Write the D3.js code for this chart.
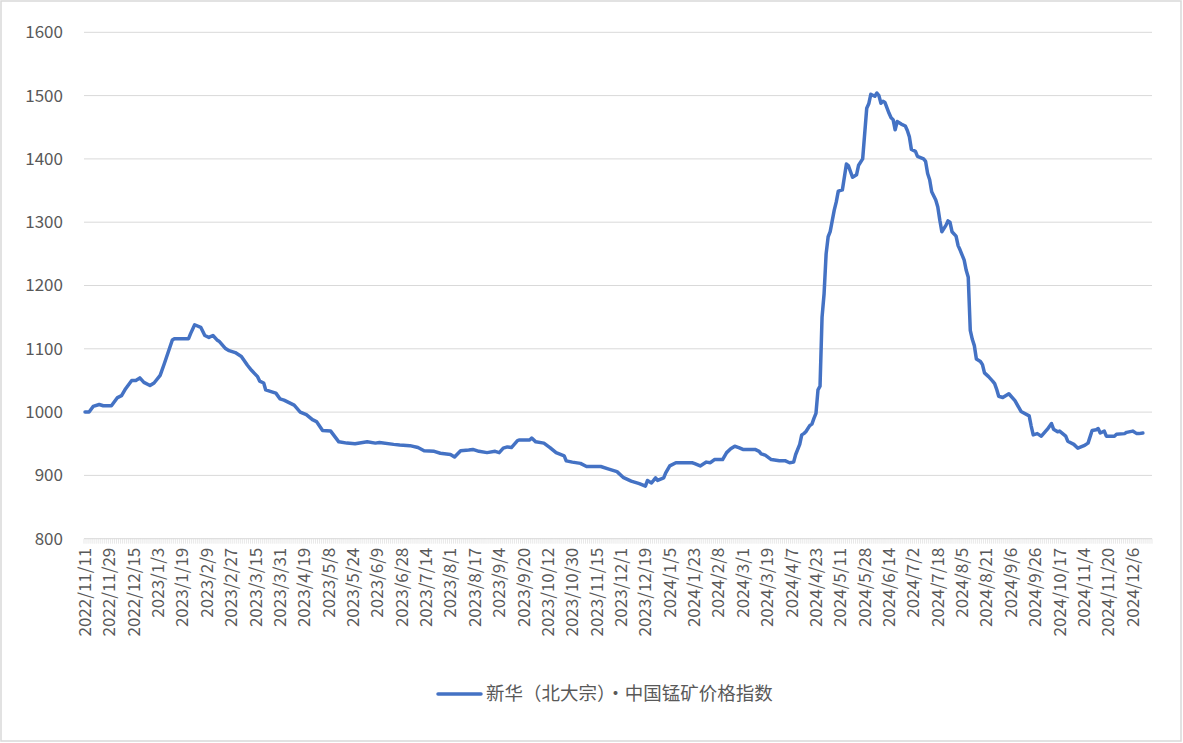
<!DOCTYPE html>
<html>
<head>
<meta charset="utf-8">
<script src="https://cdn.jsdelivr.net/npm/d3@7"></script>
<style>
  body { margin: 0; background: #fff; }
  text { font-family: "Noto Sans CJK SC", "Noto Sans", sans-serif; fill: #595959; }
</style>
</head>
<body>
<script>
// x axis: trading-day categories, a label on every 12th one
let categoryCount = 526;
let tickLabels = ["2022/11/11","2022/11/29","2022/12/15","2023/1/3","2023/1/19","2023/2/9","2023/2/27",
  "2023/3/15","2023/3/31","2023/4/19","2023/5/8","2023/5/24","2023/6/9","2023/6/28","2023/7/14",
  "2023/8/1","2023/8/17","2023/9/4","2023/9/20","2023/10/12","2023/10/30","2023/11/15","2023/12/1",
  "2023/12/19","2024/1/5","2024/1/23","2024/2/8","2024/3/1","2024/3/19","2024/4/7","2024/4/23",
  "2024/5/11","2024/5/28","2024/6/14","2024/7/2","2024/7/18","2024/8/5","2024/8/21","2024/9/6",
  "2024/9/26","2024/10/17","2024/11/4","2024/11/20","2024/12/6"];
let yTicks = [800, 900, 1000, 1100, 1200, 1300, 1400, 1500, 1600];
let seriesName = "新华（北大宗）·中国锰矿价格指数";

// index value: [trading day number, value]
let indexValues = [
  [0,1000],[2,1000],[4,1009],[7,1012],[9,1010],[13,1010],[16,1023],[18,1026],[20,1037],[23,1050],
  [25,1050],[27,1054],[29,1047],[32,1042],[34,1046],[37,1058],[39,1076],[41,1095],[43,1114],[44,1116],
  [51,1116],[52,1124],[54,1138],[57,1134],[59,1121],[61,1118],[63,1121],[65,1114],[66,1112],[69,1101],
  [71,1097],[74,1094],[77,1088],[80,1074],[82,1066],[85,1056],[86,1049],[88,1046],[89,1035],[92,1032],
  [94,1030],[96,1021],[98,1019],[103,1011],[106,1000],[109,996],[112,988],[114,985],[117,971],[121,970],
  [125,953],[129,951],[133,950],[139,953],[143,951],[145,952],[152,949],[155,948],[160,947],[164,944],
  [167,939],[172,938],[175,935],[180,933],[182,929],[185,939],[189,940],[191,941],[194,938],[198,936],
  [202,938],[204,936],[206,943],[208,945],[210,944],[213,955],[214,956],[219,956],[220,959],[222,953],
  [226,951],[229,944],[232,936],[236,931],[237,923],[240,921],[244,919],[247,914],[254,914],[258,910],
  [262,906],[265,897],[269,891],[273,887],[276,883],[277,892],[279,888],[281,896],[282,892],[285,896],
  [286,904],[288,915],[291,920],[299,920],[300,919],[303,915],[306,921],[308,920],[310,925],[314,925],
  [316,936],[318,942],[320,946],[322,944],[324,941],[330,941],[332,938],[333,934],[335,932],[338,925],
  [342,923],[345,923],[347,920],[349,921],[350,933],[352,949],[353,964],[354,966],[355,969],[357,979],
  [358,981],[359,990],[360,998],[361,1035],[362,1041],[363,1150],[364,1187],[365,1250],[366,1277],[367,1285],
  [369,1319],[370,1332],[371,1349],[373,1351],[375,1392],[376,1389],[378,1371],[380,1375],[381,1390],[383,1400],
  [385,1480],[386,1487],[387,1502],[389,1499],[390,1504],[391,1500],[392,1488],[393,1491],[394,1489],[396,1472],
  [397,1465],[398,1462],[399,1446],[400,1459],[402,1455],[404,1452],[405,1445],[406,1435],[407,1415],[409,1412],
  [410,1404],[413,1400],[414,1396],[415,1377],[416,1367],[417,1348],[419,1335],[420,1324],[421,1303],[422,1285],
  [424,1295],[425,1302],[426,1300],[427,1285],[429,1278],[430,1263],[431,1256],[433,1240],[434,1224],[435,1213],
  [436,1129],[437,1115],[438,1105],[439,1084],[441,1080],[442,1075],[443,1062],[445,1056],[447,1049],[448,1045],
  [449,1036],[450,1025],[452,1023],[455,1029],[458,1018],[461,1001],[465,994],[466,978],[467,964],[469,966],
  [471,962],[474,973],[476,982],[477,973],[479,969],[480,970],[483,962],[484,954],[487,949],[489,943],
  [492,947],[494,951],[496,971],[498,972],[499,974],[500,967],[502,970],[503,962],[507,962],[508,965],
  [512,966],[513,968],[516,970],[518,966],[519,966],[521,967]
];

let W = 1183, H = 743;
let plot = {left: 84, right: 1152, top: 32.3, bottom: 538.7};

let svg = d3.select("body").append("svg")
  .attr("width", W)
  .attr("height", H);

// chart border
svg.append("rect")
  .attr("x", 1).attr("y", 1)
  .attr("width", W - 3).attr("height", H - 3)
  .attr("fill", "#fff")
  .attr("stroke", "#d9d9d9")
  .attr("stroke-width", 1.5);

// scales: category i sits in the middle of its slot
let x = d3.scaleLinear().domain([0, categoryCount]).range([plot.left, plot.right]);
let y = d3.scaleLinear().domain([800, 1600]).range([plot.bottom, plot.top]);
let xMid = i => x(i + 0.5);

// gridlines
svg.append("g")
  .selectAll("line")
  .data(yTicks.slice(1))
  .join("line")
  .attr("x1", plot.left).attr("x2", plot.right)
  .attr("y1", d => y(d)).attr("y2", d => y(d))
  .attr("stroke", "#d9d9d9")
  .attr("stroke-width", 1);

// y labels
svg.append("g")
  .selectAll("text")
  .data(yTicks)
  .join("text")
  .attr("x", 63)
  .attr("y", d => y(d))
  .attr("dy", "0.35em")
  .attr("text-anchor", "end")
  .style("font-size", "17px")
  .text(d => d);

// x axis line plus a small tick between every category
let xAxis = svg.append("g");
xAxis.append("line")
  .attr("x1", plot.left).attr("x2", plot.right)
  .attr("y1", y(800)).attr("y2", y(800))
  .attr("stroke", "#d9d9d9");
xAxis.selectAll("line.tick")
  .data(d3.range(categoryCount + 1))
  .join("line")
  .attr("class", "tick")
  .attr("x1", d => x(d)).attr("x2", d => x(d))
  .attr("y1", y(800)).attr("y2", y(800) + 5)
  .attr("stroke", "#d9d9d9")
  .attr("stroke-width", 0.6);

// rotated date labels
xAxis.selectAll("text")
  .data(tickLabels)
  .join("text")
  .attr("transform", (d, i) => "translate(" + xMid(i * 12) + "," + (y(800) + 9) + ") rotate(-90)")
  .attr("dy", "0.35em")
  .attr("text-anchor", "end")
  .style("font-size", "17px")
  .text(d => d);

// the index line
let line = d3.line()
  .x(d => xMid(d[0]))
  .y(d => y(d[1]));

svg.append("path")
  .datum(indexValues)
  .attr("fill", "none")
  .attr("stroke", "#4472c4")
  .attr("stroke-width", 3.5)
  .attr("stroke-linejoin", "round")
  .attr("stroke-linecap", "round")
  .attr("d", line);

// legend
let legend = svg.append("g").attr("transform", "translate(438,694)");
legend.append("line")
  .attr("x1", 0).attr("x2", 43)
  .attr("stroke", "#4472c4")
  .attr("stroke-width", 3.5)
  .attr("stroke-linecap", "round");
legend.append("text")
  .attr("x", 48)
  .attr("dy", "0.35em")
  .style("font-size", "18.5px")
  .text(seriesName);
</script>
</body>
</html>
